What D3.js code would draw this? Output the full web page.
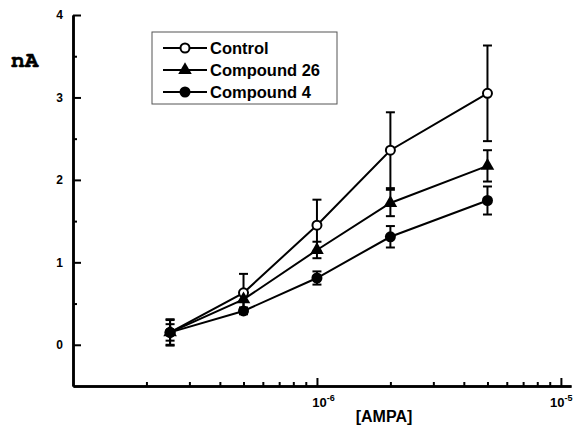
<!DOCTYPE html>
<html>
<head>
<meta charset="utf-8">
<script src="https://cdn.jsdelivr.net/npm/d3@7"></script>
<style>
  body { margin: 0; background: #fff; }
  svg { display: block; }
  text { font-family: "Liberation Sans", Arial, sans-serif; font-weight: bold; fill: #000; }
</style>
</head>
<body>
<div id="chart"></div>
<script>
const conc = [2.5e-7, 5e-7, 1e-6, 2e-6, 5e-6]
const control = [0.15, 0.63, 1.45, 2.36, 3.05]
const controlErr = [0.16, 0.23, 0.31, 0.46, 0.58]
const cmp26 = [0.15, 0.55, 1.15, 1.72, 2.17]
const cmp26Err = [0.15, 0.1, 0.1, 0.16, 0.19]
const cmp4 = [0.15, 0.41, 0.81, 1.31, 1.75]
const cmp4Err = [0.1, 0.04, 0.08, 0.13, 0.17]
const seriesNames = ['Control', 'Compound 26', 'Compound 4']
const yMajor = [0, 1, 2, 3, 4]
const yMinor = [0.5, 1.5, 2.5, 3.5]
const xMajor = [1e-6, 1e-5]
const xMajorLabels = ['-6', '-5']
const xMinor = [2e-7, 3e-7, 4e-7, 5e-7, 6e-7, 7e-7, 8e-7, 9e-7, 2e-6, 3e-6, 4e-6, 5e-6, 6e-6, 7e-6, 8e-6, 9e-6]

const width = 574
const height = 426
const plotLeft = 73
const plotRight = 571
const plotTop = 15
const plotBottom = 386

const xScale = d3.scaleLog().domain([1e-7, 1.1e-5]).range([plotLeft, plotRight])
const yScale = d3.scaleLinear().domain([-0.5, 4]).range([plotBottom, plotTop])

const svg = d3.select('#chart')
    .append('svg')
    .attr('width', width)
    .attr('height', height)

// axes
const yAxis = d3.axisLeft(yScale).tickValues(yMajor).tickSizeInner(-8).tickSizeOuter(0).tickPadding(10).tickFormat(d3.format('d'))
const yAxisMinor = d3.axisLeft(yScale).tickValues(yMinor).tickSizeInner(-4).tickSizeOuter(0).tickFormat('')
const xAxis = d3.axisBottom(xScale).tickValues(xMajor).tickSizeInner(-8).tickSizeOuter(0).tickFormat('')
const xAxisMinor = d3.axisBottom(xScale).tickValues(xMinor).tickSizeInner(-4).tickSizeOuter(0).tickFormat('')

const styleAxis = (g) => {
    g.attr('font-size', null).attr('font-family', null)
    g.select('.domain').attr('stroke-width', 2.5)
    g.selectAll('.tick line').attr('stroke-width', 2)
    g.selectAll('text').style('font-size', '12px')
}

svg.append('g').attr('transform', `translate(${plotLeft},0)`).call(yAxisMinor).call(styleAxis)
svg.append('g').attr('transform', `translate(${plotLeft},0)`).call(yAxis).call(styleAxis)
svg.append('g').attr('transform', `translate(0,${plotBottom})`).call(xAxisMinor).call(styleAxis)
const xg = svg.append('g').attr('transform', `translate(0,${plotBottom})`).call(xAxis).call(styleAxis)

// last label sits against the right edge, as in the original
xg.selectAll('.tick').each(function (d, i) {
    const last = i === xMajor.length - 1
    const t = d3.select(this).append('text')
        .attr('x', last ? 11 : 6)
        .attr('y', 21)
        .attr('text-anchor', last ? 'end' : 'middle')
        .style('font-size', '13px')
    t.append('tspan').text('10')
    t.append('tspan').attr('dy', -6).style('font-size', '9px').text(xMajorLabels[i])
})

svg.append('text')
    .attr('x', 384)
    .attr('y', 422)
    .attr('text-anchor', 'middle')
    .style('font-size', '16px')
    .text('[AMPA]')

svg.append('text')
    .attr('x', 11)
    .attr('y', 67)
    .style('font-family', '"Nimbus Mono PS", "FreeMono", "DejaVu Serif", serif')
    .style('font-size', '23px')
    .style('stroke', '#000')
    .style('stroke-width', 0.6)
    .text('nA')

// data
const series = [
    { name: seriesNames[0], values: control, err: controlErr, marker: 'open' },
    { name: seriesNames[1], values: cmp26, err: cmp26Err, marker: 'triangle' },
    { name: seriesNames[2], values: cmp4, err: cmp4Err, marker: 'dot' }
]

const line = d3.line().x((d) => xScale(d[0])).y((d) => yScale(d[1]))

series.forEach((s) => {
    svg.append('path')
        .datum(conc.map((c, i) => [c, s.values[i]]))
        .attr('d', line)
        .attr('fill', 'none')
        .attr('stroke', '#000')
        .attr('stroke-width', 2)
})

series.forEach((s) => {
    const g = svg.append('g').attr('stroke', '#000').attr('stroke-width', 2)
    conc.forEach((c, i) => {
        const x = xScale(c)
        const y1 = yScale(s.values[i] + s.err[i])
        const y2 = yScale(s.values[i] - s.err[i])
        g.append('line').attr('x1', x).attr('x2', x).attr('y1', y1).attr('y2', y2)
        g.append('line').attr('x1', x - 4.5).attr('x2', x + 4.5).attr('y1', y1).attr('y2', y1)
        g.append('line').attr('x1', x - 4.5).attr('x2', x + 4.5).attr('y1', y2).attr('y2', y2)
    })
})

const drawMarker = (sel, type, x, y) => {
    if (type === 'open') {
        sel.append('circle').attr('cx', x).attr('cy', y).attr('r', 4.5)
            .attr('fill', '#fff').attr('stroke', '#000').attr('stroke-width', 2)
    } else if (type === 'dot') {
        sel.append('circle').attr('cx', x).attr('cy', y).attr('r', 5.5).attr('fill', '#000')
    } else {
        sel.append('path')
            .attr('d', d3.symbol().type(d3.symbolTriangle).size(80)())
            .attr('transform', `translate(${x},${y})`)
            .attr('fill', '#000')
    }
}

series.forEach((s) => {
    const g = svg.append('g')
    conc.forEach((c, i) => drawMarker(g, s.marker, xScale(c), yScale(s.values[i])))
})

// legend
const legend = svg.append('g')
legend.append('rect')
    .attr('x', 152).attr('y', 32).attr('width', 185).attr('height', 72)
    .attr('fill', '#fff').attr('stroke', '#555').attr('stroke-width', 1)

series.forEach((s, i) => {
    const y = 48 + i * 22
    legend.append('line').attr('x1', 163).attr('x2', 207).attr('y1', y).attr('y2', y)
        .attr('stroke', '#000').attr('stroke-width', 2)
    drawMarker(legend, s.marker, 185, y)
    legend.append('text')
        .attr('x', 210)
        .attr('y', y + 6)
        .style('font-size', '16.5px')
        .text(s.name)
})
</script>
</body>
</html>
